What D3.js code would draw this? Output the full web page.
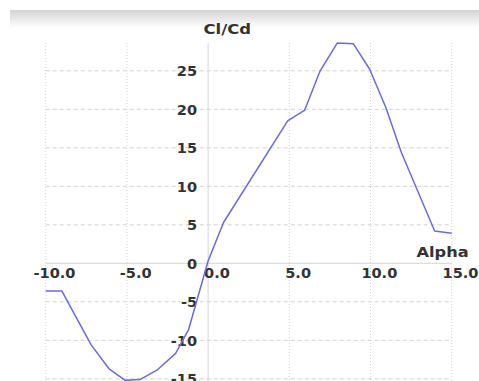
<!DOCTYPE html>
<html>
<head>
<meta charset="utf-8">
<script src="https://cdn.jsdelivr.net/npm/d3@7"></script>
<style>
  html, body { margin: 0; padding: 0; background: #fff; overflow: hidden; }
  svg { display: block; }
  text { font-family: "DejaVu Sans", Verdana, sans-serif; font-weight: bold; fill: #333; }
</style>
</head>
<body>
<svg id="chart" width="479" height="381"></svg>
<script>
// ---- data ----
const alpha = [-10, -9, -7.2, -6.1, -5.1, -4.2, -3.1, -2.0, -1.2, 0, 0.95, 4.9, 5.95, 6.9, 7.95, 8.95, 9.95, 10.95, 11.9, 13.95, 15];
const clcd  = [-3.6, -3.6, -10.6, -13.7, -15.2, -15.1, -13.8, -11.7, -8.6, 0.3, 5.3, 18.5, 19.9, 25.0, 28.6, 28.5, 25.2, 20.2, 14.4, 4.2, 3.9];
const xTicks = [-10, -5, 0, 5, 10, 15];
const yTicks = [-15, -10, -5, 0, 5, 10, 15, 20, 25];
const xTitle = "Alpha";
const yTitle = "Cl/Cd";

const svg = d3.select("#chart");
const W = 479, H = 381;

const x = d3.scaleLinear().domain([-10, 15]).range([45.7, 451.7]);
const y = d3.scaleLinear().domain([-15, 25]).range([378.8, 70.8]);
const plotTop = 43, plotBottom = H;

// header gradient band
const defs = svg.append("defs");
const grad = defs.append("linearGradient").attr("id", "hdr").attr("x1", 0).attr("y1", 0).attr("x2", 0).attr("y2", 1);
grad.append("stop").attr("offset", "0%").attr("stop-color", "#d3d3d3");
grad.append("stop").attr("offset", "100%").attr("stop-color", "#ffffff");
svg.append("rect").attr("x", 10).attr("y", 10).attr("width", W - 10).attr("height", 18).attr("fill", "url(#hdr)");

// grid
const grid = svg.append("g");
grid.selectAll("line.h").data(yTicks.filter(d => d !== 0)).join("line")
  .attr("x1", x(-10)).attr("x2", x(15))
  .attr("y1", d => y(d)).attr("y2", d => y(d))
  .attr("stroke", "#d2d2d2").attr("stroke-width", 1).attr("stroke-dasharray", "4,3");
grid.selectAll("line.v").data(xTicks.filter(d => d !== 0)).join("line")
  .attr("x1", d => x(d)).attr("x2", d => x(d))
  .attr("y1", plotTop).attr("y2", plotBottom)
  .attr("stroke", "#d2d2d2").attr("stroke-width", 1).attr("stroke-dasharray", "1,2");
// axis lines at zero
grid.append("line").attr("x1", x(-10)).attr("x2", x(15)).attr("y1", y(0)).attr("y2", y(0))
  .attr("stroke", "#d4d4d4").attr("stroke-width", 1);
grid.append("line").attr("x1", x(0)).attr("x2", x(0)).attr("y1", plotTop).attr("y2", plotBottom)
  .attr("stroke", "#d4d4d4").attr("stroke-width", 1);

// x tick labels
const gx = svg.append("g").attr("transform", "translate(0,277.5)")
  .call(d3.axisBottom(x).tickValues(xTicks).tickFormat(d => d.toFixed(1)).tickSize(0).tickPadding(0));
gx.select(".domain").remove();
gx.selectAll("text").attr("y", 0).attr("dy", 0).attr("x", 8)
  .attr("transform", "scale(1.04,1)")
  .attr("font-size", 14).attr("font-family", null).attr("fill", null);

// y tick labels
const gy = svg.append("g").attr("transform", `translate(${x(0)},0)`)
  .call(d3.axisLeft(y).tickValues(yTicks).tickFormat(d => String(d)).tickSize(0).tickPadding(11));
gy.select(".domain").remove();
gy.selectAll("text").attr("dy", "0.36em")
  .attr("transform", "translate(-11,0) scale(1.04,1) translate(11,0)")
  .attr("font-size", 14).attr("font-family", null).attr("fill", null);

// titles
svg.append("text").attr("transform", "translate(203.5,33.5) scale(1.22,1)")
  .attr("font-size", 13.5).text(yTitle);
svg.append("text").attr("transform", "translate(416.5,256.5) scale(1.2,1)")
  .attr("font-size", 13.5).text(xTitle);

// series line
const pts = alpha.map((a, i) => [a, clcd[i]]);
svg.append("path").datum(pts)
  .attr("fill", "none").attr("stroke", "#6a6ae8").attr("stroke-width", 1.5)
  .attr("stroke-linejoin", "round")
  .attr("d", d3.line().x(d => x(d[0])).y(d => y(d[1])));
</script>
</body>
</html>
